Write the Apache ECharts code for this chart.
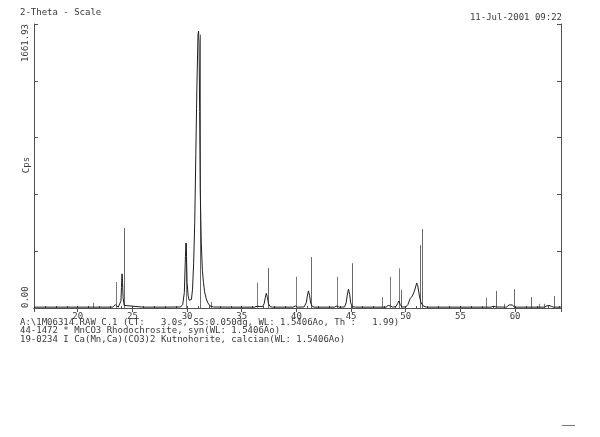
<!DOCTYPE html>
<html>
<head>
<meta charset="utf-8">
<script src="https://cdn.jsdelivr.net/npm/echarts@6/dist/echarts.min.js"></script>
<style>
html,body{margin:0;padding:0;background:#fff;}
#chart{width:600px;height:437px;}
</style>
</head>
<body>
<div id="chart"></div>
<script>
// ---- data ----
const xMin = 16, xMax = 64.2;
const yMax = 1661.93;
const xTickLabels = [20, 25, 30, 35, 40, 45, 50, 55, 60];
const titleText = '2-Theta - Scale';
const dateText = '11-Jul-2001 09:22';
const yName = 'Cps';
const footerLines = [
  'A:\\1M06314.RAW C.1 (CT:   3.0s, SS:0.050dg, WL: 1.5406Ao, Th :   1.99)',
  '44-1472 * MnCO3 Rhodochrosite, syn(WL: 1.5406Ao)',
  '19-0234 I Ca(Mn,Ca)(CO3)2 Kutnohorite, calcian(WL: 1.5406Ao)'
];

// measured pattern (2-theta, cps)
const obsX = [16.0,18.0,20.0,22.0,23.2,23.35,23.45,23.55,23.7,23.85,23.95,24.0,24.05,24.1,24.15,24.25,24.4,
  26.0,28.0,29.4,29.6,29.75,29.85,29.9,29.95,30.0,30.1,30.2,30.3,30.4,30.5,30.6,30.7,30.8,30.9,31.0,31.05,31.1,31.15,31.2,31.3,31.4,31.5,31.6,31.75,31.9,32.1,32.4,
  34.0,36.2,36.4,36.55,36.9,37.05,37.15,37.25,37.35,37.45,37.6,37.8,
  39.7,39.9,40.1,40.7,40.9,41.0,41.1,41.2,41.3,41.45,41.7,
  43.5,43.7,43.9,44.4,44.55,44.65,44.76,44.87,44.97,45.1,45.4,
  48.2,48.4,48.5,48.6,48.8,49.1,49.25,49.37,49.5,49.65,50.0,50.2,50.4,50.6,50.8,51.0,51.1,51.25,51.4,51.6,51.9,
  57.8,58.0,58.15,58.3,59.2,59.45,59.6,59.75,59.95,62.7,62.9,63.1,63.3,63.5,64.2];
const obsY = [5,5,5,5,5,12,20,10,5,8,40,120,200,150,60,15,5,
  5,5,6,20,90,300,380,300,150,70,45,40,50,110,260,500,900,1300,1600,1620,1550,1150,700,380,220,150,95,55,30,12,6,
  5,5,10,5,8,25,60,86,60,25,8,5,
  5,12,5,6,30,70,100,75,30,8,5,
  5,12,5,6,30,75,110,80,30,8,5,
  5,15,22,12,5,8,25,41,20,6,6,20,55,70,100,146,130,70,30,12,5,
  5,10,12,6,5,18,25,18,5,5,12,15,10,5,5];

// reference sticks: 44-1472 Rhodochrosite
const rhodX = [24.23,31.2,37.41,41.34,45.07,49.58,51.34,51.53,58.3,59.9,61.5,63.6];
const rhodH = [468,1600,235,298,262,105,368,462,100,110,64,70];
// reference sticks: 19-0234 Kutnohorite, calcian
const kutnX = [21.4,23.47,29.88,32.2,36.37,39.97,43.72,47.84,48.57,49.37,57.35,58.97,62.17,62.6];
const kutnH = [30,152,380,35,148,183,183,64,183,232,60,25,25,25];

// ---- chart ----
const FONT = '"DejaVu Sans Mono", "Liberation Mono", monospace';
const TXT = '#3a3a3a';
const AX = '#505050';

function stickSeries(xs, hs, color) {
  return {
    type: 'custom',
    xAxisIndex: 0, yAxisIndex: 0,
    data: xs.map((x, i) => [x, hs[i]]),
    renderItem: function (params, api) {
      const p0 = api.coord([api.value(0), 0]);
      const p1 = api.coord([api.value(0), api.value(1)]);
      const px = Math.round(p0[0]) + 0.5;
      return { type: 'line', shape: { x1: px, y1: p0[1], x2: px, y2: p1[1] },
               style: { stroke: color, lineWidth: 1 } };
    },
    silent: true, z: 2
  };
}

const chart = echarts.init(document.getElementById('chart'), null, { renderer: 'canvas' });
chart.setOption({
  animation: false,
  backgroundColor: '#ffffff',
  grid: { left: 34, right: 39, top: 24, bottom: 129, containLabel: false, outerBoundsMode: 'none' },
  title: [
    { text: titleText, left: 20, top: 8, padding: 0,
      textStyle: { fontFamily: FONT, fontSize: 9, fontWeight: 'normal', color: TXT } },
    { text: dateText, right: 38, top: 13, padding: 0,
      textStyle: { fontFamily: FONT, fontSize: 9, fontWeight: 'normal', color: TXT } }
  ],
  xAxis: [
    { type: 'value', position: 'bottom', min: xMin, max: xMax, interval: 1,
      axisLine: { show: true, lineStyle: { color: AX, width: 1 } },
      axisTick: { show: true, inside: true, length: 2, lineStyle: { color: AX } },
      splitLine: { show: false },
      axisLabel: { margin: 4, fontFamily: FONT, fontSize: 9, color: TXT,
        showMinLabel: false, showMaxLabel: false,
        formatter: v => (xTickLabels.indexOf(v) >= 0 ? String(v) : '') } },
    { type: 'value', position: 'top', min: xMin, max: xMax, splitNumber: 10,
      axisLine: { show: true, lineStyle: { color: AX, width: 1 } },
      axisTick: { show: true, inside: true, length: 4, lineStyle: { color: AX } },
      splitLine: { show: false }, axisLabel: { show: false } }
  ],
  yAxis: [
    { type: 'value', position: 'left', min: 0, max: yMax, interval: yMax / 5,
      axisLine: { show: true, lineStyle: { color: AX, width: 1 } },
      axisTick: { show: true, inside: true, length: 4, lineStyle: { color: AX } },
      splitLine: { show: false },
      axisLabel: { margin: 4, rotate: 90, fontFamily: FONT, fontSize: 9, color: TXT,
        alignMinLabel: 'left', alignMaxLabel: 'right',
        formatter: v => (v === 0 ? '0.00' : (Math.abs(v - yMax) < 0.01 ? yMax.toFixed(2) : '')) } },
    { type: 'value', position: 'right', min: 0, max: yMax, interval: yMax / 5,
      axisLine: { show: true, lineStyle: { color: AX, width: 1 } },
      axisTick: { show: true, inside: true, length: 4, lineStyle: { color: AX } },
      splitLine: { show: false }, axisLabel: { show: false } }
  ],
  series: [
    stickSeries(rhodX, rhodH, '#6a6a6a'),
    stickSeries(kutnX, kutnH, '#7a7a7a'),
    { type: 'line', xAxisIndex: 0, yAxisIndex: 0,
      data: obsX.map((x, i) => [x, obsY[i]]),
      showSymbol: false, symbol: 'none', smooth: false,
      lineStyle: { color: '#1e1e1e', width: 1 }, z: 3, silent: true }
  ],
  graphic: [
    { type: 'text', x: 27, y: 165, rotation: Math.PI / 2,
      style: { text: yName, font: '9px ' + FONT, fill: TXT, align: 'center', verticalAlign: 'middle' } },
    { type: 'text', left: 20, top: 318, style: { text: footerLines[0], font: '9px ' + FONT, fill: TXT } },
    { type: 'text', left: 20, top: 326, style: { text: footerLines[1], font: '9px ' + FONT, fill: TXT } },
    { type: 'text', left: 20, top: 335, style: { text: footerLines[2], font: '9px ' + FONT, fill: TXT } },
    { type: 'line', shape: { x1: 562, y1: 425.5, x2: 575, y2: 425.5 }, style: { stroke: '#777', lineWidth: 1 } }
  ]
});
</script>
</body>
</html>
